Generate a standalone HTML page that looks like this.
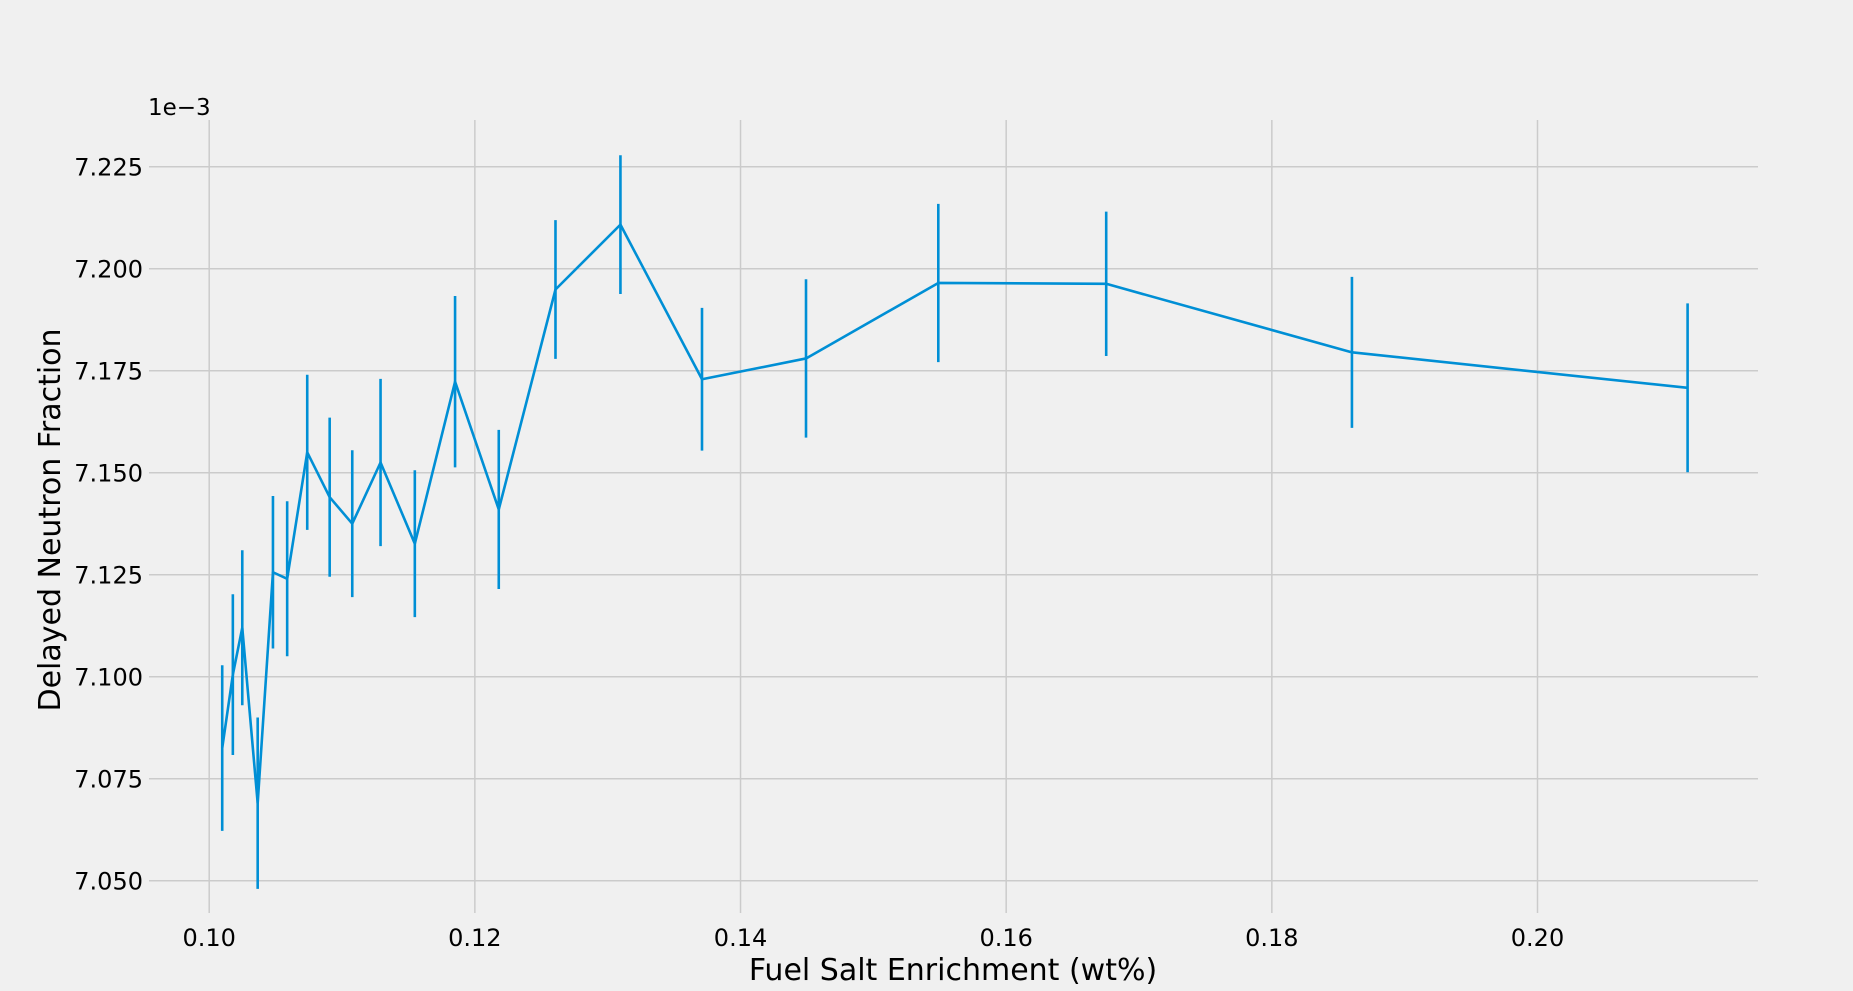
<!DOCTYPE html>
<html><head><meta charset="utf-8"><style>
body{margin:0;background:#f0f0f0;}
svg{display:block;font-family:"DejaVu Sans","Liberation Sans",sans-serif;}
</style></head><body>
<svg id="chart" width="1853" height="991" viewBox="0 0 1853 991" xmlns="http://www.w3.org/2000/svg">
<rect width="1853" height="991" fill="#f0f0f0"/>
<g id="grid"></g>
<g id="marks"></g>
<g id="labels"></g>
</svg>
<script>
const xVals=[0.10098,0.10178,0.10249,0.10365,0.10480,0.10587,0.10738,0.10907,0.11077,0.11290,0.11548,0.11851,0.12180,0.12607,0.13096,0.13710,0.14493,0.15489,0.16753,0.18603,0.21130];
const yVals=[7.0825,7.1005,7.112,7.069,7.1256,7.124,7.155,7.144,7.1375,7.1525,7.1326,7.1723,7.141,7.1949,7.2108,7.1729,7.178,7.1965,7.1963,7.1795,7.1708];
const yErr=[0.0203,0.0197,0.019,0.021,0.0187,0.019,0.019,0.0195,0.018,0.0205,0.018,0.021,0.0195,0.017,0.017,0.0175,0.0194,0.0194,0.0177,0.0185,0.0207];
const xTicks=[0.10,0.12,0.14,0.16,0.18,0.20];
const xTickLabels=["0.10","0.12","0.14","0.16","0.18","0.20"];
const yTicks=[7.050,7.075,7.100,7.125,7.150,7.175,7.200,7.225];
const yTickLabels=["7.050","7.075","7.100","7.125","7.150","7.175","7.200","7.225"];

const NS="http://www.w3.org/2000/svg";
const L=149,R=1758,T=120,B=913;
function xs(v){return 209.2+(v-0.10)*13283;}
function ys(v){return 166.7+(7.225-v)/0.025*102;}
function mk(tag,attrs,parent){const e=document.createElementNS(NS,tag);for(const k in attrs)e.setAttribute(k,attrs[k]);parent.appendChild(e);return e;}
const grid=document.getElementById('grid'),marks=document.getElementById('marks'),labels=document.getElementById('labels');

xTicks.forEach((t,i)=>{
 const l=mk('line',{x1:xs(t),x2:xs(t),y1:T,y2:B,stroke:'#cbcbcb','stroke-width':1.5},grid);
 
 
 const tx=mk('text',{x:xs(t),y:946,'text-anchor':'middle','font-size':24,fill:'#000'},labels);
 tx.textContent=xTickLabels[i];
 
 
});
yTicks.forEach((t,i)=>{
 const l=mk('line',{x1:L,x2:R,y1:ys(t),y2:ys(t),stroke:'#cbcbcb','stroke-width':1.5},grid);
 
 
 const tx=mk('text',{x:143,y:ys(t)+9,'text-anchor':'end','font-size':24,fill:'#000'},labels);
 tx.textContent=yTickLabels[i];
 
 
});
xVals.forEach((x,i)=>{
 const e=mk('line',{x1:xs(x),x2:xs(x),y1:ys(yVals[i]+yErr[i]),y2:ys(yVals[i]-yErr[i]),stroke:'#008fd5','stroke-width':2.6},marks);
 
 
});
const p=mk('polyline',{points:xVals.map((x,i)=>xs(x)+','+ys(yVals[i])).join(' '),fill:'none',stroke:'#008fd5','stroke-width':2.6,'stroke-linejoin':'round'},marks);



let t=mk('text',{x:148,y:115,'font-size':23,fill:'#000'},labels);t.textContent='1e\u22123';


t=mk('text',{x:953,y:980,'text-anchor':'middle','font-size':30,fill:'#000'},labels);t.textContent='Fuel Salt Enrichment (wt%)';


t=mk('text',{x:0,y:0,'text-anchor':'middle','font-size':30,fill:'#000',transform:'translate(60,520) rotate(-90)'},labels);t.textContent='Delayed Neutron Fraction';


</script>
</body></html>
